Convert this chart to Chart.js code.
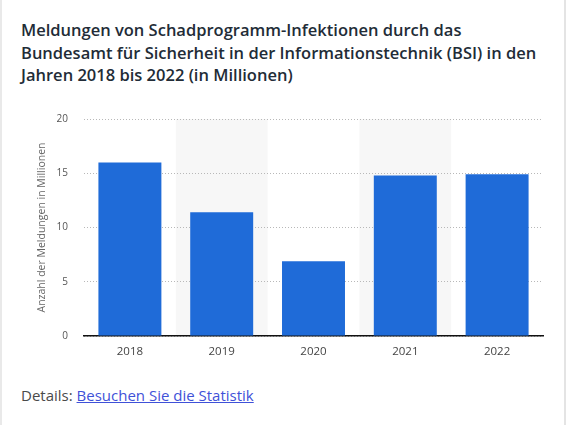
<!DOCTYPE html>
<html>
<head>
<meta charset="utf-8">
<script src="https://cdn.jsdelivr.net/npm/chart.js@4"></script>
<style>
html,body{margin:0;padding:0;background:#fff;}
body{width:570px;height:425px;position:relative;overflow:hidden;font-family:"Open Sans",sans-serif;}
#frame{position:absolute;left:0;top:0;width:566px;height:425px;border-left:2px solid #e9e9e9;border-right:2px solid #e4e4e4;box-sizing:border-box;}
#title{position:absolute;left:21px;top:19px;white-space:nowrap;font-size:16.5px;line-height:22.5px;font-weight:600;color:#222c37;margin:0;}
#wrap{position:absolute;left:0;top:97px;width:570px;height:273px;}
#footer{position:absolute;left:21px;top:385px;font-size:15px;color:#4a4a4a;}
#footer a{color:#3f51d8;text-decoration:underline;}
</style>
</head>
<body>
<div id="frame"></div>
<h1 id="title">Meldungen von Schadprogramm-Infektionen durch das<br>Bundesamt für Sicherheit in der Informationstechnik (BSI) in den<br>Jahren 2018 bis 2022 (in Millionen)</h1>
<div id="wrap"><canvas id="chart"></canvas></div>
<div id="footer">Details: <a href="#">Besuchen Sie die Statistik</a></div>
<script>
// data
const years=['2018','2019','2020','2021','2022'];
const meldungen=[16.0,11.4,6.9,14.8,14.9];
const yTicks=[0,5,10,15,20];

// grey bands behind every second year
const bands={
	id:'bands',
	beforeDraw:function(chart){
		const ctx=chart.ctx;
		const area=chart.chartArea;
		const x=chart.scales.x;
		const w=(area.right-area.left)/years.length;
		ctx.save();
		ctx.fillStyle='#f7f7f7';
		for(let i=1;i<years.length;i+=2){
			const cx=x.getPixelForValue(i);
			ctx.fillRect(cx-w/2,area.top,w,area.bottom-area.top);
		}
		ctx.restore();
	}
};

new Chart(document.getElementById('chart'),{
	type:'bar',
	data:{
		labels:years,
		datasets:[{
			data:meldungen,
			backgroundColor:'#1f6bd8',
			categoryPercentage:0.686,
			barPercentage:1
		}]
	},
	options:{
		responsive:true,
		maintainAspectRatio:false,
		animation:false,
		layout:{padding:{top:12,right:27,bottom:0,left:36}},
		plugins:{legend:{display:false},tooltip:{enabled:false}},
		scales:{
			x:{
				grid:{display:false,drawTicks:false},
				border:{display:true,color:'#111',width:1.5},
				ticks:{color:'#444',font:{family:'Open Sans',size:11.5},padding:9},
				afterFit:function(s){s.height=34;}
			},
			y:{
				min:0,max:20,
				afterBuildTicks:function(s){s.ticks=yTicks.map(v=>({value:v}));},
				grid:{color:'#b8b8b8',drawTicks:false},
				border:{display:false,dash:[1,2]},
				ticks:{color:'#555',font:{family:'Open Sans',size:10},padding:16},
				title:{display:true,text:'Anzahl der Meldungen in Millionen',color:'#666',font:{family:'Open Sans',size:10.5},padding:{top:0,bottom:0}},
				afterFit:function(s){s.width=48;}
			}
		}
	},
	plugins:[bands]
});
</script>
</body>
</html>
